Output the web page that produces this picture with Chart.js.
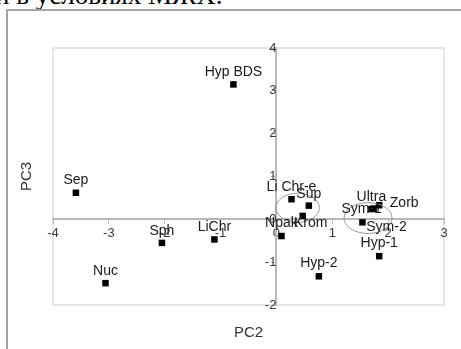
<!DOCTYPE html>
<html>
<head>
<meta charset="utf-8">
<script src="https://cdn.jsdelivr.net/npm/chart.js@4"></script>
<style>
	body { margin: 0; background: #fff; width: 461px; height: 349px; overflow: hidden; position: relative; }
	#capText { position: absolute; left: -5px; top: -18px; font: 27px 'Liberation Serif', 'Times New Roman', serif; line-height: 27px; color: #000; white-space: nowrap; }
	#frame { position: absolute; left: 6px; top: 9px; width: 500px; height: 400px; border-left: 2px solid #a4a4a4; border-top: 2px solid #a4a4a4; }
	#wrap { position: absolute; left: 0; top: 0; width: 461px; height: 349px; }
</style>
</head>
<body>
<div id="capText">и в условиях МЖХ.</div>
<div id="frame"></div>
<div id="wrap"><canvas id="myChart" width="461" height="349"></canvas></div>
<script>
	//점 이름
	var names = ['Sep', 'Hyp BDS', 'Nuc', 'Sph', 'LiChr', 'Li Chr-e', 'Sup', 'Krom', 'Npak', 'Ultra', 'Zorb', 'Sym-1', 'Sym-2', 'Hyp-1', 'Hyp-2'];
	//PC2 (x)
	var pc2 = [-3.59, -0.77, -3.06, -2.05, -1.11, 0.27, 0.58, 0.47, 0.09, 1.70, 1.84, 1.74, 1.54, 1.84, 0.76];
	//PC3 (y)
	var pc3 = [0.62, 3.15, -1.49, -0.55, -0.47, 0.47, 0.32, 0.08, -0.39, 0.24, 0.33, 0.25, -0.07, -0.86, -1.33];
	//타원 (그룹)
	var ellCx = [0.38, 1.64];
	var ellCy = [0.27, 0.03];
	var ellRx = [0.39, 0.43];
	var ellRy = [0.34, 0.36];

	//라벨 위치 (px, 텍스트 중심 기준)
	var labelShift = {
		'Sep': [0, -13], 'Hyp BDS': [0, -12], 'Nuc': [0, -12], 'Sph': [0, -12], 'LiChr': [0, -12],
		'Li Chr-e': [0, -12], 'Sup': [0, -11], 'Krom': [8, 7], 'Npak': [0, -13], 'Ultra': [0, -12],
		'Zorb': [25, -2], 'Sym-1': [-12, 1], 'Sym-2': [24, 5], 'Hyp-1': [0, -13], 'Hyp-2': [0, -13]
	};

	var points = [];
	for (var i = 0; i < names.length; i++) {
		points.push({x: pc2[i], y: pc3[i]});
	}

	var extras = {
		id: 'extras',
		beforeDraw: function(chart) {
			var ctx = chart.ctx, a = chart.chartArea;
			ctx.save();
			ctx.strokeStyle = '#e6e6e6';
			ctx.lineWidth = 2;
			ctx.strokeRect(a.left, a.top, a.right - a.left, a.bottom - a.top);
			ctx.restore();
		},
		afterDatasetsDraw: function(chart) {
			var ctx = chart.ctx, xs = chart.scales.x, ys = chart.scales.y;
			ctx.save();
			//타원
			ctx.strokeStyle = '#999';
			ctx.lineWidth = 1;
			for (var k = 0; k < ellCx.length; k++) {
				var cx = xs.getPixelForValue(ellCx[k]);
				var cy = ys.getPixelForValue(ellCy[k]);
				var rx = Math.abs(xs.getPixelForValue(ellCx[k] + ellRx[k]) - cx);
				var ry = Math.abs(ys.getPixelForValue(ellCy[k] + ellRy[k]) - cy);
				ctx.beginPath();
				ctx.ellipse(cx, cy, rx, ry, 0, 0, Math.PI * 2);
				ctx.stroke();
			}
			//라벨
			ctx.fillStyle = '#1a1a1a';
			ctx.font = '14px "Liberation Sans", Arial, sans-serif';
			ctx.textAlign = 'center';
			ctx.textBaseline = 'middle';
			for (var i = 0; i < names.length; i++) {
				var s = labelShift[names[i]] || [0, -12];
				ctx.fillText(names[i], xs.getPixelForValue(pc2[i]) + s[0], ys.getPixelForValue(pc3[i]) + s[1]);
			}
			//축 제목
			var a = chart.chartArea;
			ctx.fillStyle = '#333';
			ctx.font = '15px "Liberation Sans", Arial, sans-serif';
			ctx.fillText('PC2', (a.left + a.right) / 2, 333);
			ctx.translate(27, (a.top + a.bottom) / 2);
			ctx.rotate(-Math.PI / 2);
			ctx.fillText('PC3', 0, 0);
			ctx.restore();
		}
	};

	Chart.defaults.font.family = '"Liberation Sans", Arial, sans-serif';

	var ctx = document.getElementById('myChart').getContext('2d');
	var chart = new Chart(ctx, {
		type: 'scatter',
		data: {
			datasets: [{
				label: 'PCA',
				data: points,
				pointStyle: 'rect',
				pointRadius: 4.6,
				backgroundColor: '#000',
				borderColor: '#000',
				borderWidth: 0
			}]
		},
		options: {
			responsive: false,
			animation: false,
			layout: { padding: { left: 53, right: 17, top: 48, bottom: 44 } },
			plugins: { legend: { display: false }, tooltip: { enabled: false } },
			scales: {
				x: {
					type: 'linear',
					min: -4, max: 3,
					position: { y: 0 },
					afterFit: function(scale) { scale.height = 0; },
					border: { display: true, color: '#b8b8b8', width: 2 },
					grid: { display: true, drawOnChartArea: false, drawTicks: true, tickLength: 4, color: '#b8b8b8' },
					ticks: { stepSize: 1, color: '#3a3a3a', font: { size: 13 }, padding: 2, maxRotation: 0 }
				},
				y: {
					type: 'linear',
					min: -2, max: 4,
					position: { x: 0 },
					afterFit: function(scale) { scale.width = 0; },
					border: { display: true, color: '#b8b8b8', width: 2 },
					grid: { display: true, drawOnChartArea: false, drawTicks: true, tickLength: 4, color: '#b8b8b8' },
					ticks: { stepSize: 1, color: '#3a3a3a', font: { size: 13 }, padding: 2 }
				}
			}
		},
		plugins: [extras]
	});
</script>
</body>
</html>
